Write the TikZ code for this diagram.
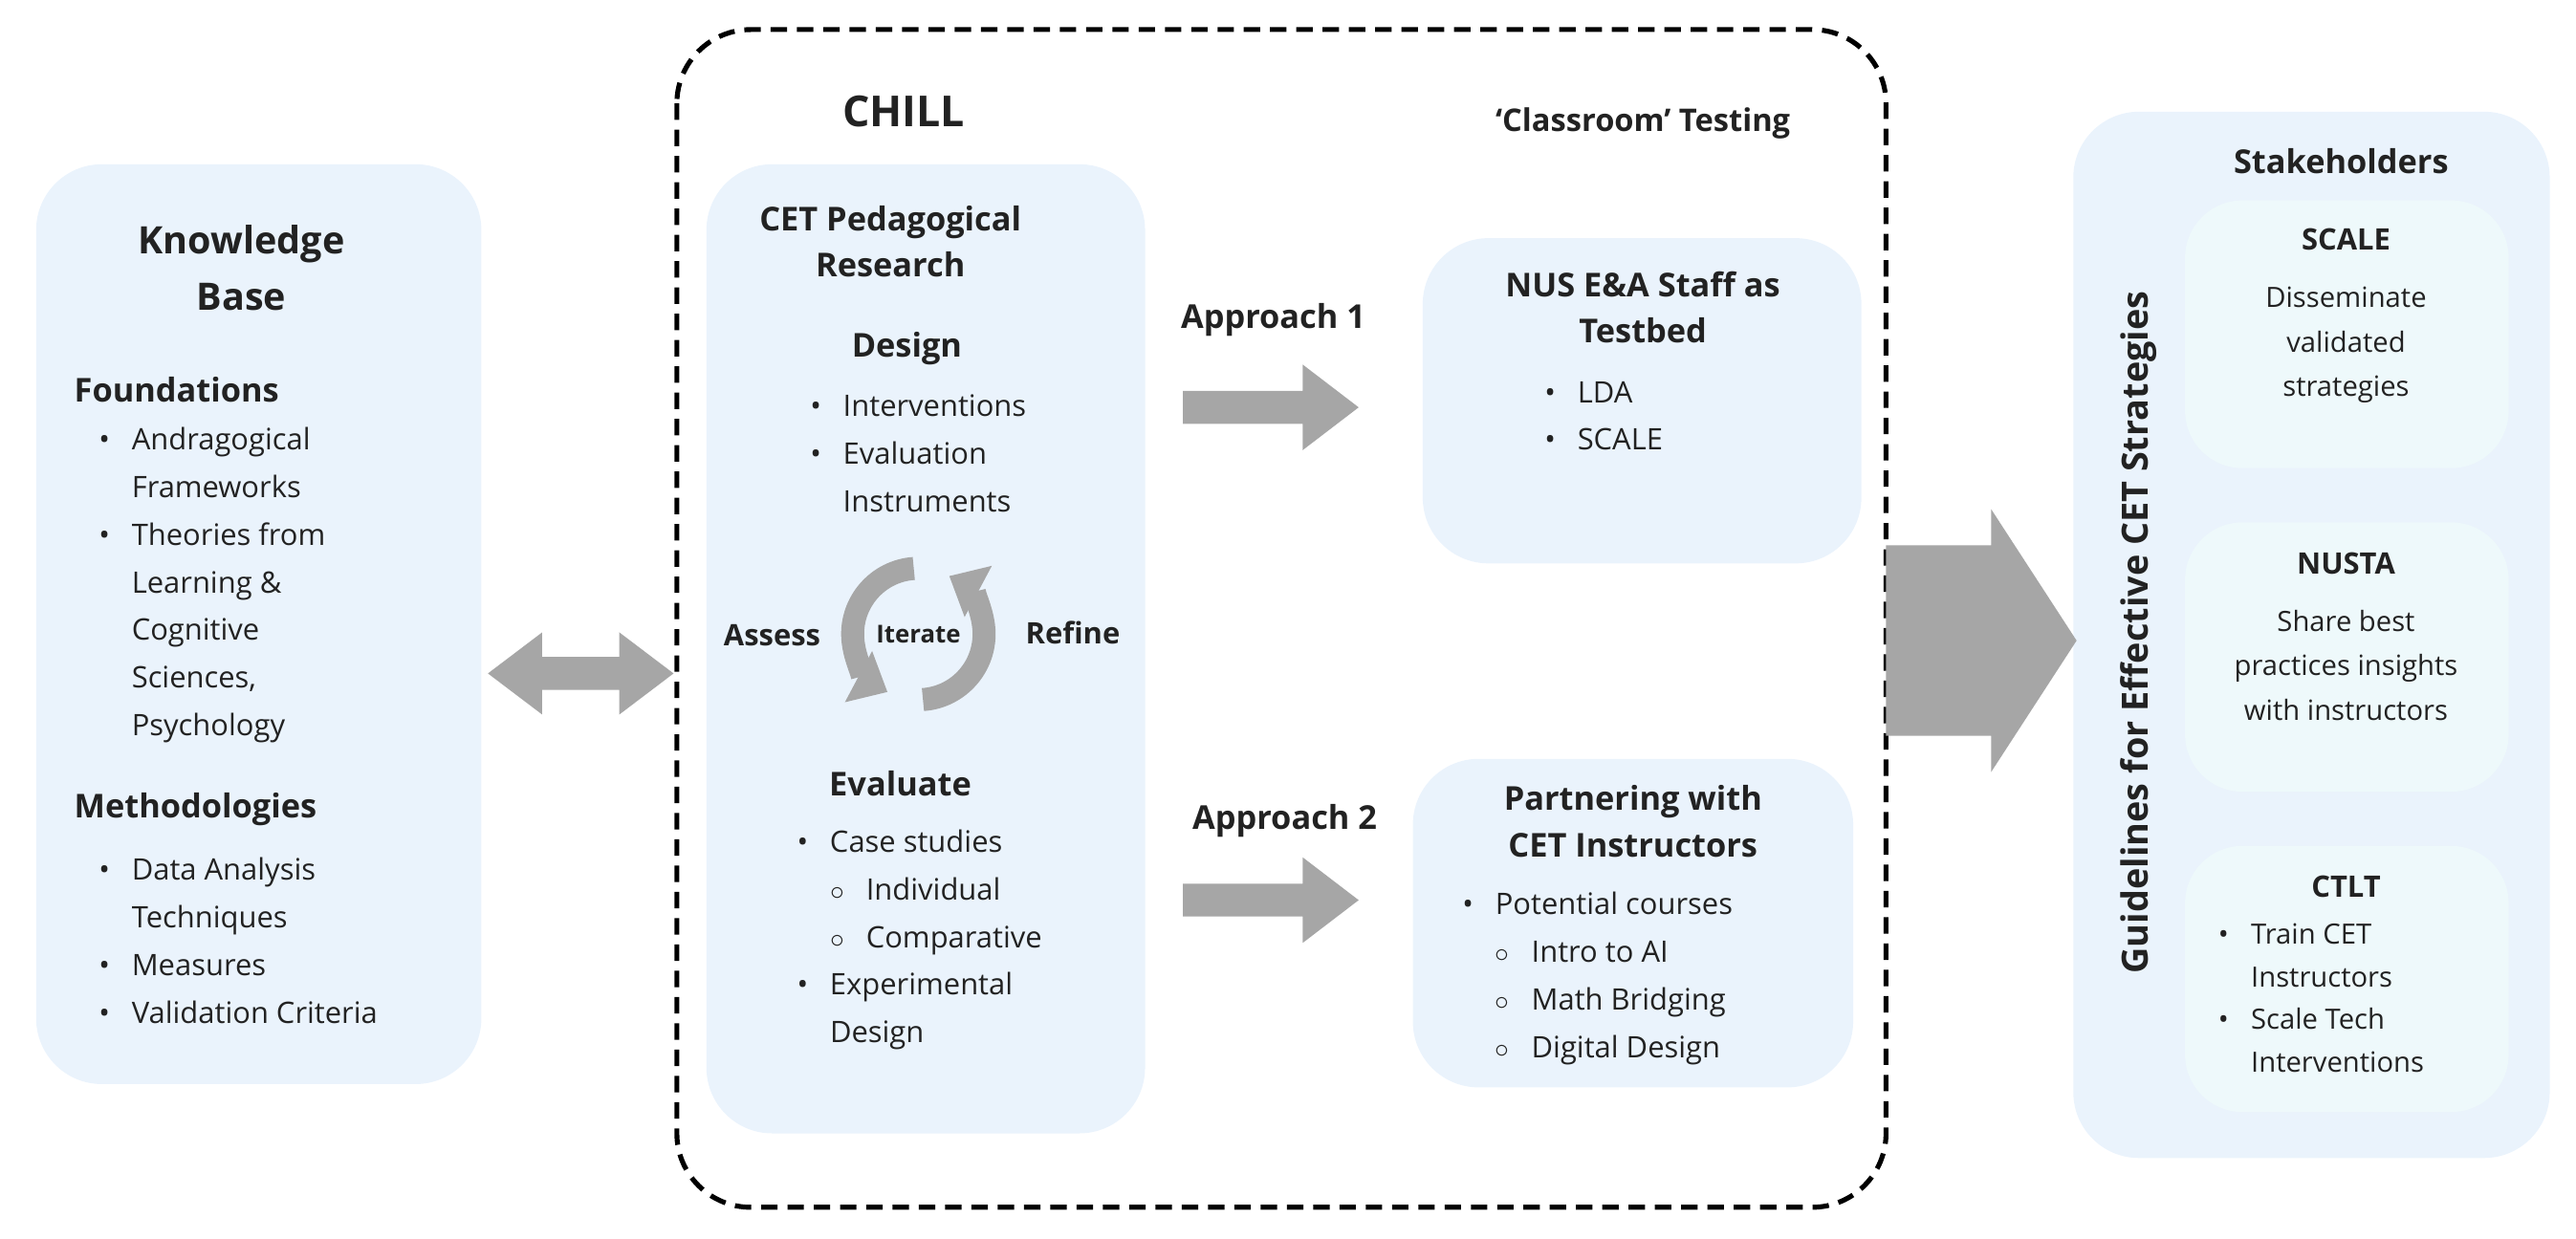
\documentclass[tikz,border=0pt]{standalone}
\usepackage{fontspec}
\setmainfont{Open Sans}
\usetikzlibrary{arrows.meta}
\definecolor{boxblue}{HTML}{EAF3FC}
\definecolor{boxcyan}{HTML}{EEF9FB}
\definecolor{arrgray}{HTML}{A6A6A6}
\definecolor{txt}{HTML}{222222}
\newcommand\bi[1]{\makebox[20pt][l]{\textbullet}#1}
\newcommand\bc[1]{\hspace*{20pt}#1}
\newcommand\sbi[1]{\hspace*{20pt}\makebox[22pt][l]{$\circ$}#1}
\tikzset{
  panel/.style={fill=boxblue,draw=none,rounded corners=40pt},
  inner/.style={fill=boxcyan,draw=none,rounded corners=35pt},
  body/.style={font=\fontsize{18}{29}\selectfont,text=txt,align=left,anchor=north west,inner sep=0pt},
  hd/.style={font=\fontsize{20}{28}\selectfont\bfseries,text=txt,align=center,inner sep=0pt},
  garrow/.style={fill=arrgray,draw=none},
  cyc/.style={arrgray,line width=14pt,-{Triangle[length=20pt,width=34pt]}},
}
\begin{document}
\begin{tikzpicture}[x=1pt,y=-1pt]
\useasboundingbox (0,0) rectangle (1568,754);
% panels
\path[panel] (22,100) rectangle (293,660);
\path[panel] (430,100) rectangle (697,690);
\path[panel] (866,145) rectangle (1133,343);
\path[panel] (860,462) rectangle (1128,662);
\path[panel] (1262,68) rectangle (1552,705);
\path[inner] (1330,122) rectangle (1527,285);
\path[inner] (1330,318) rectangle (1527,482);
\path[inner] (1330,515) rectangle (1527,677);
\draw[line width=3pt,dash pattern=on 10pt off 6pt,rounded corners=45pt] (412,18) rectangle (1148,735);
% knowledge base
\node[hd,font=\fontsize{23}{34}\selectfont\bfseries] (kb) at (147,163) {Knowledge\\Base};
\node[hd,anchor=west] (found) at (45,237) {Foundations};
\node[body] (foundl) at (60,260) {\bi{Andragogical}\\\bc{Frameworks}\\\bi{Theories from}\\\bc{Learning \&}\\\bc{Cognitive}\\\bc{Sciences,}\\\bc{Psychology}};
\node[hd,anchor=west] (meth) at (45,493) {Methodologies};
\node[body] (methl) at (60,522) {\bi{Data Analysis}\\\bc{Techniques}\\\bi{Measures}\\\bi{Validation Criteria}};
% double arrow
\path[garrow] (297,410) -- (330,385) -- (330,400) -- (377,400) -- (377,385) -- (410,410) -- (377,435) -- (377,420) -- (330,420) -- (330,435) -- cycle;
% CHILL
\node[hd,font=\fontsize{26}{30}\selectfont\bfseries] (chill) at (550,68) {CHILL};
\node[hd,font=\fontsize{19}{24}\selectfont\bfseries] (ct) at (1000,75) {`Classroom' Testing};
\node[hd] (cet) at (542,147) {CET Pedagogical\\Research};
\node[hd] (design) at (552,212) {Design};
\node[body] (designl) at (493,240) {\bi{Interventions}\\\bi{Evaluation}\\\bc{Instruments}};
% cycle
\coordinate (cyc) at (559,386);
\draw[cyc] ([shift={(94:40pt)}]cyc) arc[start angle=94,end angle=242,radius=40pt];
\draw[cyc] ([shift={(274:40pt)}]cyc) arc[start angle=274,end angle=422,radius=40pt];
\node[font=\fontsize{15}{17}\selectfont\bfseries,text=txt] (it) at (cyc) {Iterate};
\node[font=\fontsize{18}{22}\selectfont\bfseries,text=txt] (as) at (470,387) {Assess};
\node[font=\fontsize{18}{22}\selectfont\bfseries,text=txt] (rf) at (653,385) {Refine};
\node[hd] (eval) at (548,477) {Evaluate};
\node[body] (evall) at (485,505) {\bi{Case studies}\\\sbi{Individual}\\\sbi{Comparative}\\\bi{Experimental}\\\bc{Design}};
% approaches
\node[hd] (a1) at (775,195) {Approach 1};
\path[garrow] (720,238) -- (793,238) -- (793,222) -- (827,248) -- (793,274) -- (793,258) -- (720,258) -- cycle;
\node[hd] (a2) at (782,500) {Approach 2};
\path[garrow] (720,538) -- (793,538) -- (793,522) -- (827,548) -- (793,574) -- (793,558) -- (720,558) -- cycle;
\node[hd] (nus) at (1000,187) {NUS E\&A Staff as\\Testbed};
\node[body] (nusl) at (940,232) {\bi{LDA}\\\bi{SCALE}};
\node[hd] (part) at (994,500) {Partnering with\\CET Instructors};
\node[body] (partl) at (890,543) {\bi{Potential courses}\\\sbi{Intro to AI}\\\sbi{Math Bridging}\\\sbi{Digital Design}};
% big arrow
\path[garrow] (1148,332) -- (1212,332) -- (1212,310) -- (1264,390) -- (1212,470) -- (1212,448) -- (1148,448) -- cycle;
% right
\node[hd,rotate=90,font=\fontsize{22}{26}\selectfont\bfseries] (guide) at (1302,385) {Guidelines for Effective CET Strategies};
\node[hd] (stake) at (1425,98) {Stakeholders};
\node[hd,font=\fontsize{18}{24}\selectfont\bfseries] (scale) at (1428,146) {SCALE};
\node[hd,font=\fontsize{17}{27}\selectfont] (scalet) at (1428,210) {Disseminate\\validated\\strategies};
\node[hd,font=\fontsize{18}{24}\selectfont\bfseries] (nusta) at (1428,343) {NUSTA};
\node[hd,font=\fontsize{17}{27}\selectfont] (nustat) at (1428,405) {Share best\\practices insights\\with instructors};
\node[hd,font=\fontsize{18}{24}\selectfont\bfseries] (ctlt) at (1428,540) {CTLT};
\node[body,font=\fontsize{17}{26}\selectfont] (ctltl) at (1350,562) {\bi{Train CET}\\\bc{Instructors}\\\bi{Scale Tech}\\\bc{Interventions}};
\end{tikzpicture}
\end{document}
